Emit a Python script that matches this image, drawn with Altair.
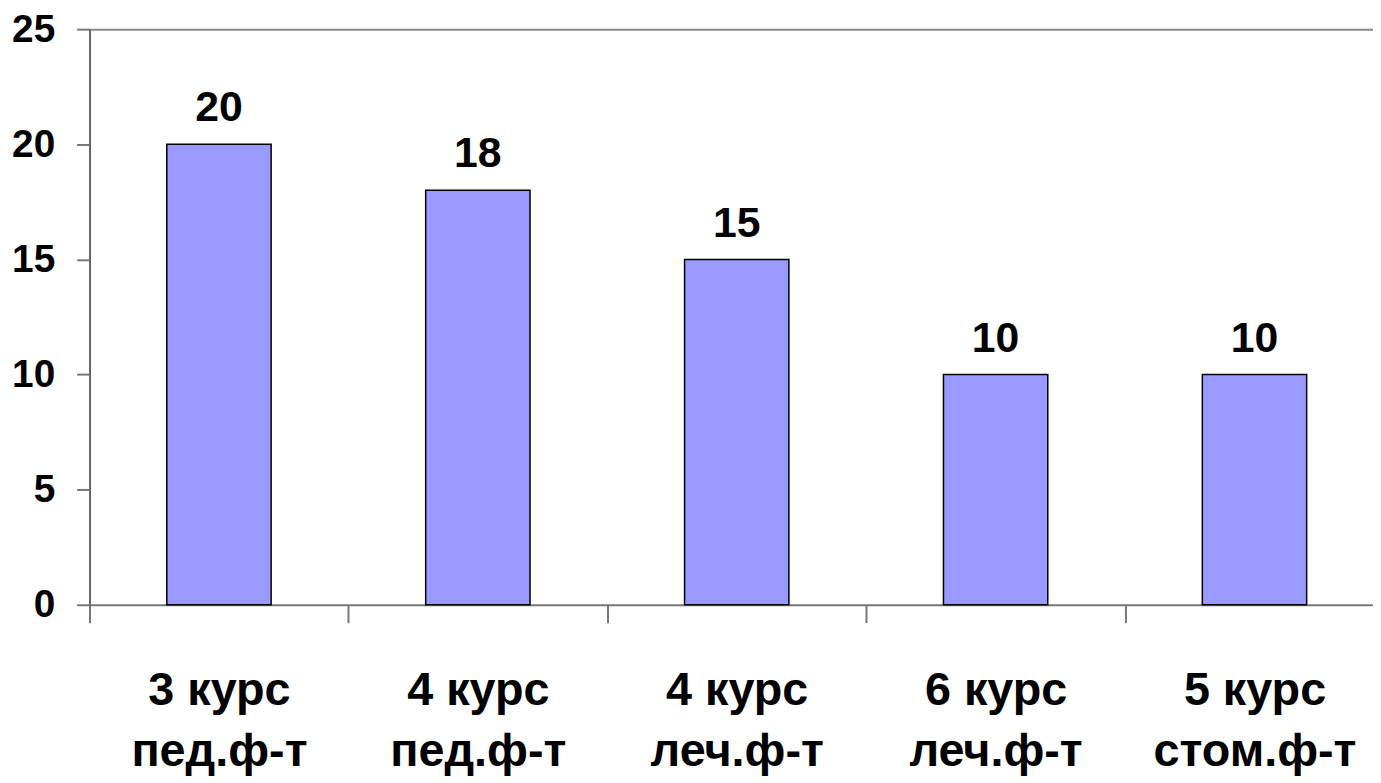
import altair as alt
import pandas as pd

courses = ["3 курс", "4 курс", "4 курс", "6 курс", "5 курс"]
faculties = ["пед.ф-т", "пед.ф-т", "леч.ф-т", "леч.ф-т", "стом.ф-т"]
values = [20, 18, 15, 10, 10]
y_ticks = [0, 5, 10, 15, 20, 25]

df = pd.DataFrame({
    "cat": [f"{c}\n{f}" for c, f in zip(courses, faculties)],
    "value": values,
})

FONT = "Liberation Sans"

x = alt.X(
    "cat:N",
    sort=None,
    scale=alt.Scale(range=[0, 1302], paddingInner=0, paddingOuter=0),
    axis=alt.Axis(
        title=None,
        labelAngle=0,
        labelExpr="split(datum.label, '\\n')",
        labelFont=FONT,
        labelFontWeight="bold",
        labelFontSize=47,
        labelLineHeight=62,
        labelColor="black",
        labelPadding=45,
        labelOverlap=False,
        labelLimit=0,
        tickBand="extent",
        tickSize=18,
        tickColor="#777777",
        tickWidth=2,
        domainColor="#777777",
        domainWidth=2,
    ),
)

y = alt.Y(
    "value:Q",
    scale=alt.Scale(domain=[0, 25], nice=False),
    axis=alt.Axis(
        values=y_ticks,
        title=None,
        labelFont=FONT,
        labelFontWeight="bold",
        labelFontSize=39,
        labelColor="black",
        labelPadding=22,
        tickSize=13,
        tickColor="#777777",
        tickWidth=2,
        domainColor="#666666",
        domainWidth=2,
        grid=True,
        gridColor="#888888",
        gridWidth=2,
        gridOpacity={"condition": {"test": "datum.value === 25", "value": 1}, "value": 0},
    ),
)

base = alt.Chart(df)

bars = base.mark_bar(
    color="#9999FF",
    stroke="black",
    strokeWidth=1.5,
    width=alt.RelativeBandSize(0.403),
).encode(x=x, y=y)

labels = base.mark_text(
    dy=-23,
    baseline="alphabetic",
    fontSize=43,
    fontWeight="bold",
    font=FONT,
    color="black",
).encode(x=x, y=y, text="value:Q")

chart = (
    alt.layer(bars, labels)
    .properties(
        width=1291,
        height=579,
        autosize=alt.AutoSizeParams(type="none"),
        padding={"left": 82, "top": 19, "right": 0, "bottom": 176},
        background="white",
    )
    .configure_view(stroke=None)
)

chart.save("out.html", embed_options={"renderer": "svg", "actions": False})
